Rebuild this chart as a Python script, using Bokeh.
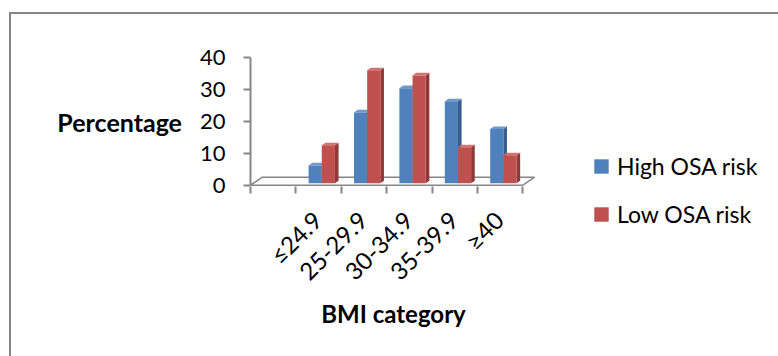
from math import pi
from bokeh.plotting import figure
from bokeh.layouts import row
from bokeh.models import (Range1d, FixedTicker, Legend, LegendItem, ColumnDataSource)
from bokeh.embed import file_html
from bokeh.resources import INLINE

# ---- data ----
categories = ["≤24.9", "25-29.9", "30-34.9", "35-39.9", "≥40"]
high_osa = [5.6, 22.2, 29.8, 25.7, 17.0]
low_osa = [11.9, 35.4, 33.8, 11.3, 8.8]
y_ticks = [0, 10, 20, 30, 40]
series_names = ["High OSA risk", "Low OSA risk"]

# ---- style ----
FONT = "Lato"
GRAY = "#868686"
BLUE, RED = "#4F81BD", "#C0504D"
BLUE_SIDE, RED_SIDE = "#385E8C", "#8E3A38"
BLUE_TOP, RED_TOP = "#7198C8", "#CF7572"
BASE = 0.6          # bars sit slightly back on the 3D floor
DX, DY = 0.08, 0.8  # 3D depth of the bars
BAR_W = 0.29
SLOT0 = 1.0         # first category sits in the second slot of the floor

n = len(categories)
floor_w = n + SLOT0

# main plot: canvas origin on the page is (11, 14); frame spans x 250..536, y 57..186
p = figure(width=581, height=342, output_backend="svg", toolbar_location=None,
           x_range=Range1d(0, 6.3), y_range=Range1d(-0.4, 40),
           min_border_left=239, min_border_right=56,
           min_border_top=43, min_border_bottom=170)
p.grid.visible = False
p.outline_line_color = None
p.background_fill_color = "white"
p.border_fill_color = "white"

slots = [SLOT0 + i for i in range(n)]

# floor of the 3D chart
p.patch([0, floor_w, floor_w + 0.26, 0.26], [0, 0, 2.5, 2.5],
        fill_color="white", line_color=GRAY, line_width=1.5)

series = [(high_osa, BLUE, BLUE_SIDE, BLUE_TOP), (low_osa, RED, RED_SIDE, RED_TOP)]
for s, (vals, front, side, top) in enumerate(series):
    x0 = [sl + 0.28 + s * BAR_W for sl in slots]
    x1 = [a + BAR_W for a in x0]
    tops = [BASE + v for v in vals]
    p.patches([[b, b + DX, b + DX, b] for b in x1],
              [[BASE, BASE + DY, t + DY, t] for t in tops],
              fill_color=side, line_color=None)
    p.patches([[a, a + DX, b + DX, b] for a, b in zip(x0, x1)],
              [[t, t + DY, t + DY, t] for t in tops],
              fill_color=top, line_color=None)
    src = ColumnDataSource(dict(x=[(a + b) / 2 for a, b in zip(x0, x1)],
                                top=tops, bottom=[BASE] * n))
    p.vbar(x="x", top="top", bottom="bottom", width=BAR_W, source=src,
           fill_color=front, line_color=None)

# x axis: ticks at slot boundaries, labels at category centres
xa = p.xaxis[0]
centers = [sl + 0.47 for sl in slots]
xa.ticker = FixedTicker(ticks=centers, minor_ticks=list(range(0, n + 2)))
xa.major_label_overrides = {c: lab for c, lab in zip(centers, categories)}
xa.axis_line_color = None
xa.major_tick_line_color = None
xa.major_tick_out = 7
xa.major_tick_in = 0
xa.minor_tick_line_color = GRAY
xa.minor_tick_line_width = 2
xa.minor_tick_out = 7
xa.minor_tick_in = 0
xa.major_label_orientation = pi / 4
xa.major_label_standoff = 22
xa.major_label_text_font = FONT
xa.major_label_text_font_size = "24px"
xa.major_label_text_color = "black"
xa.axis_label = "BMI category"
xa.axis_label_text_font = FONT
xa.axis_label_text_font_size = "24px"
xa.axis_label_text_font_style = "bold"
xa.axis_label_text_color = "black"
xa.axis_label_standoff = 0

ya = p.yaxis[0]
ya.ticker = FixedTicker(ticks=y_ticks, minor_ticks=[])
ya.bounds = (0, 40)
ya.axis_line_color = GRAY
ya.axis_line_width = 2
ya.major_tick_line_color = GRAY
ya.major_tick_line_width = 2
ya.major_tick_out = 7
ya.major_tick_in = 0
ya.minor_tick_line_color = None
ya.major_label_standoff = 18
ya.major_label_text_font = FONT
ya.major_label_text_font_size = "22px"
ya.major_label_text_color = "black"
ya.axis_label = "Percentage"
ya.axis_label_orientation = "horizontal"
ya.axis_label_text_font = FONT
ya.axis_label_text_font_size = "25px"
ya.axis_label_text_font_style = "bold"
ya.axis_label_text_color = "black"
ya.axis_label_standoff = 15

# legend canvas to the right (starts at page x = 592)
pl = figure(width=186, height=342, output_backend="svg", toolbar_location=None,
            x_range=Range1d(0, 1), y_range=Range1d(0, 1),
            min_border_left=0, min_border_right=0,
            min_border_top=43, min_border_bottom=170)
pl.axis.visible = False
pl.grid.visible = False
pl.outline_line_color = None
pl.background_fill_color = "white"
pl.border_fill_color = "white"
# legend swatches (kept outside the visible range of this canvas)
swatches = [pl.vbar(x=[-1], top=[-1], bottom=[-2], width=0.1, fill_color=c, line_color=None)
            for c in (BLUE, RED)]

legend = Legend(items=[LegendItem(label=nm, renderers=[r]) for nm, r in zip(series_names, swatches)],
                location="top_left")
legend.title = " "
legend.title_text_font_size = "1px"
legend.title_standoff = 94
legend.border_line_color = None
legend.background_fill_alpha = 0
legend.padding = 0
legend.margin = 0
legend.spacing = 20
legend.glyph_width = 18
legend.glyph_height = 18
legend.label_height = 28
legend.label_standoff = 7
legend.label_text_font = FONT
legend.label_text_font_size = "23px"
legend.label_text_color = "black"
pl.add_layout(legend, "left")

layout = row(p, pl, margin=(12, 0, 0, 9),
             styles={"border-left": f"2px solid {GRAY}", "border-top": f"2px solid {GRAY}"})

open("out.html", "w").write(file_html(layout, INLINE))
